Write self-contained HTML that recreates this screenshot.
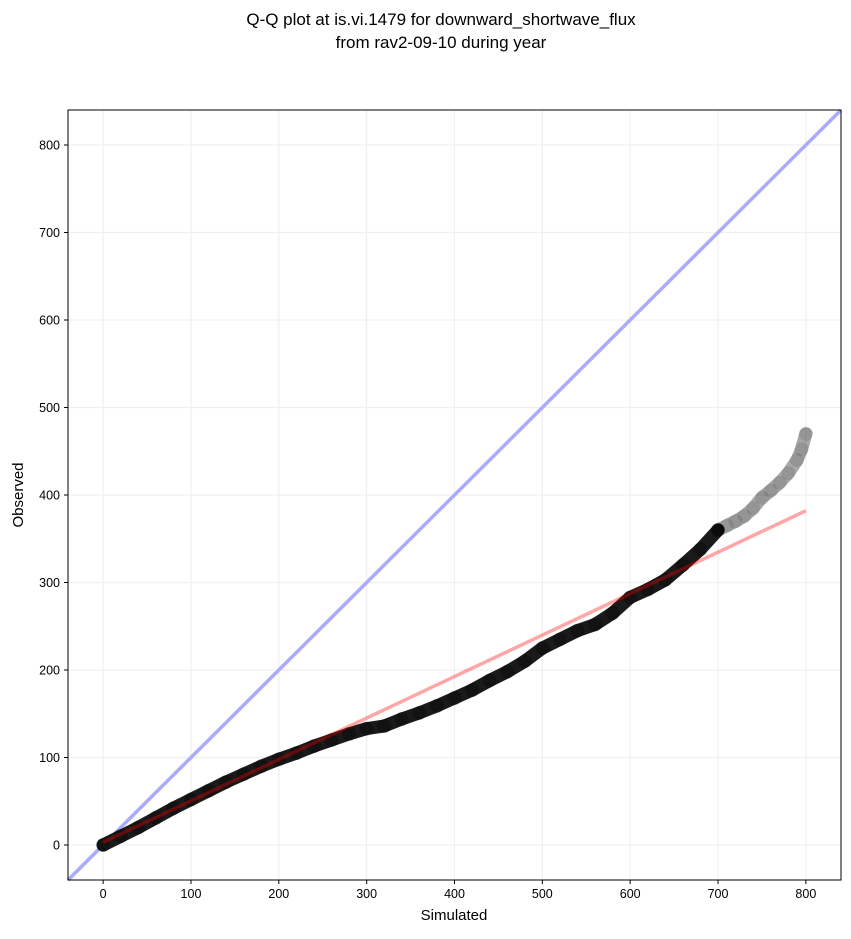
<!DOCTYPE html>
<html><head><meta charset="utf-8"><style>
body{margin:0;background:#fff;font-family:"Liberation Sans",sans-serif}
</style></head><body>
<svg id="c" width="851" height="934" xmlns="http://www.w3.org/2000/svg">
<text x="441" y="25" font-size="17" text-anchor="middle">Q-Q plot at is.vi.1479 for downward_shortwave_flux</text>
<text x="441" y="48" font-size="17" text-anchor="middle">from rav2-09-10 during year</text>
<g id="grid"></g><g id="marks"></g><g id="axes"></g>
<text x="454" y="920" font-size="15" text-anchor="middle">Simulated</text>
<text x="23" y="495" font-size="15" text-anchor="middle" transform="rotate(-90 23 495)">Observed</text>
</svg>
<script>
const ticks=[0,100,200,300,400,500,600,700,800];
const simulated=[0,20,40,60,80,100,120,140,160,180,200,220,240,260,280,300,320,340,360,380,400,420,440,460,480,500,520,540,560,580,600,620,640,660,680,700,710,720,730,740,750,760,770,780,790,795,800];
const observed=[0,10,20,31,42,52,62,72,81,90,98,105,113,120,127,133,136,144,151,159,168,177,188,198,210,225,235,245,252,265,283,292,303,320,338,360,365,370,376,385,397,405,414,425,440,452,470];
const fitStart=[0,3], fitEnd=[800,382];
const L=68,R=841,T=110,B=880,MIN=-40,MAX=840;
const X=v=>L+(v-MIN)/(MAX-MIN)*(R-L);
const Y=v=>B-(v-MIN)/(MAX-MIN)*(B-T);
const NS="http://www.w3.org/2000/svg";
function mk(p,t,a){const e=document.createElementNS(NS,t);for(const k in a)e.setAttribute(k,a[k]);p.appendChild(e);return e;}
const grid=document.getElementById('grid'),axes=document.getElementById('axes'),marks=document.getElementById('marks');
ticks.forEach(t=>{
 let g=mk(grid,'line',{x1:X(t),x2:X(t),y1:T,y2:B,stroke:'#f0f0f0','stroke-width':1.2});
 
 
 g=mk(grid,'line',{x1:L,x2:R,y1:Y(t),y2:Y(t),stroke:'#f0f0f0','stroke-width':1.2});
 
 
 mk(axes,'line',{x1:X(t),x2:X(t),y1:B,y2:B+4,stroke:'#000'});
 let tx=mk(axes,'text',{x:X(t),y:B+18,'font-size':12.5,'text-anchor':'middle'});tx.textContent=t;
 
 
 mk(axes,'line',{x1:L-4,x2:L,y1:Y(t),y2:Y(t),stroke:'#000'});
 tx=mk(axes,'text',{x:L-8,y:Y(t)+4.5,'font-size':12.5,'text-anchor':'end'});tx.textContent=t;
 
 
});
const fr=mk(axes,'rect',{x:L,y:T,width:R-L,height:B-T,fill:'none',stroke:'#000','stroke-width':1});


const one=mk(marks,'line',{x1:X(MIN),y1:Y(MIN),x2:X(MAX),y2:Y(MAX),stroke:'#aaaaff','stroke-width':3.5});


const main=[],tail=[];
simulated.forEach((s,i)=>{ if(s<=700) main.push([s,observed[i]]); if(s>=690) tail.push([s,observed[i]]); });
const pathOf=a=>a.map((p,i)=>(i?'L':'M')+X(p[0])+','+Y(p[1])).join(' ');
const trail=mk(marks,'path',{d:pathOf(main),fill:'none',stroke:'#1a1a1a','stroke-width':13,'stroke-linecap':'round','stroke-linejoin':'round'});


const trail2=mk(marks,'path',{d:pathOf(tail),fill:'none',stroke:'#000','stroke-opacity':0.35,'stroke-width':13,'stroke-linecap':'round','stroke-linejoin':'round'});


simulated.forEach((s,i)=>{
 const c=mk(marks,'circle',{cx:X(s),cy:Y(observed[i]),r:7,fill:'#000','fill-opacity':s>700?0.1:0.3});
 
 
});
const fit=mk(marks,'line',{x1:X(fitStart[0]),y1:Y(fitStart[1]),x2:X(fitEnd[0]),y2:Y(fitEnd[1]),stroke:'#ff0000','stroke-opacity':0.35,'stroke-width':3.5});


</script>
</body></html>
